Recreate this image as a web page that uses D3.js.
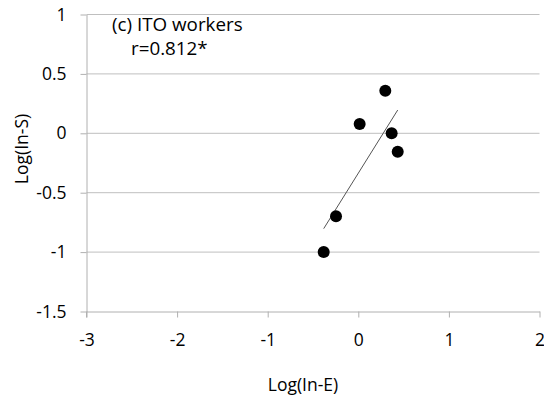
<!DOCTYPE html>
<html><head><meta charset="utf-8">
<script src="https://cdn.jsdelivr.net/npm/d3@7"></script>
<style>body{margin:0;background:#fff}svg{display:block}text{font-family:"Open Sans",sans-serif;fill:#000}</style>
</head><body><svg id="c" width="544" height="396"></svg>
<script>
const xValues = [0.298, 0.015, 0.368, 0.435, -0.246, -0.382];
const yValues = [0.358, 0.079, 0.0, -0.156, -0.699, -1.0];
const xTicks = [-3, -2, -1, 0, 1, 2];
const yTicks = [-1.5, -1, -0.5, 0, 0.5, 1];
const title = "(c) ITO workers";
const subtitle = "r=0.812*";
const xLabel = "Log(In-E)";
const yLabel = "Log(In-S)";

const svg = d3.select("#c");
const x = d3.scaleLinear().domain([-3, 2]).range([86.5, 539.5]);
const y = d3.scaleLinear().domain([-1.5, 1]).range([311.5, 14.5]);
const fs = 17.5;

// gridlines
svg.append("g").selectAll("line").data(yTicks.filter(d => d > -1.5)).join("line")
  .attr("x1", x(-3)).attr("x2", x(2)).attr("y1", d => y(d)).attr("y2", d => y(d))
  .attr("stroke", "#bfbfbf").attr("stroke-width", 1);

const xa = svg.append("g").attr("transform", `translate(0,${y(-1.5)})`)
  .call(d3.axisBottom(x).tickValues(xTicks).tickFormat(d => String(d)).tickSize(6).tickPadding(16.5).tickSizeOuter(0));
const ya = svg.append("g").attr("transform", `translate(${x(-3)},0)`)
  .call(d3.axisLeft(y).tickValues(yTicks).tickFormat(d => String(d)).tickSize(6).tickPadding(14).tickSizeOuter(0));
[xa, ya].forEach(a => {
  a.select(".domain").attr("stroke", "#b0b0b0");
  a.selectAll(".tick line").attr("stroke", "#b0b0b0");
  a.selectAll("text").attr("font-size", fs).attr("font-family", '"Open Sans",sans-serif').attr("fill", "#000");
});
// extend y axis below x axis
svg.append("line").attr("x1", x(-3)).attr("x2", x(-3)).attr("y1", y(-1.5)).attr("y2", y(-1.5) + 6).attr("stroke", "#b0b0b0");

// trendline (least squares)
const n = xValues.length;
const mx = d3.mean(xValues), my = d3.mean(yValues);
let sxy = 0, sxx = 0;
for (let i = 0; i < n; i++) { sxy += (xValues[i] - mx) * (yValues[i] - my); sxx += (xValues[i] - mx) ** 2; }
const slope = sxy / sxx, icpt = my - slope * mx;
const [x0, x1] = d3.extent(xValues);
svg.append("line").attr("x1", x(x0)).attr("y1", y(icpt + slope * x0))
  .attr("x2", x(x1)).attr("y2", y(icpt + slope * x1))
  .attr("stroke", "#555").attr("stroke-width", 1);

svg.append("g").selectAll("circle").data(xValues.map((v, i) => [v, yValues[i]])).join("circle")
  .attr("cx", d => x(d[0])).attr("cy", d => y(d[1])).attr("r", 6).attr("fill", "#000");

svg.append("text").attr("x", 112).attr("y", 30.5).attr("font-size", 18.8).text(title);
svg.append("text").attr("x", 131).attr("y", 55).attr("font-size", 18.8).text(subtitle);
svg.append("text").attr("x", 303).attr("y", 391).attr("text-anchor", "middle").attr("font-size", fs).text(xLabel);
svg.append("text").attr("transform", "translate(28,149) rotate(-90)").attr("text-anchor", "middle").attr("font-size", fs).text(yLabel);
</script></body></html>
